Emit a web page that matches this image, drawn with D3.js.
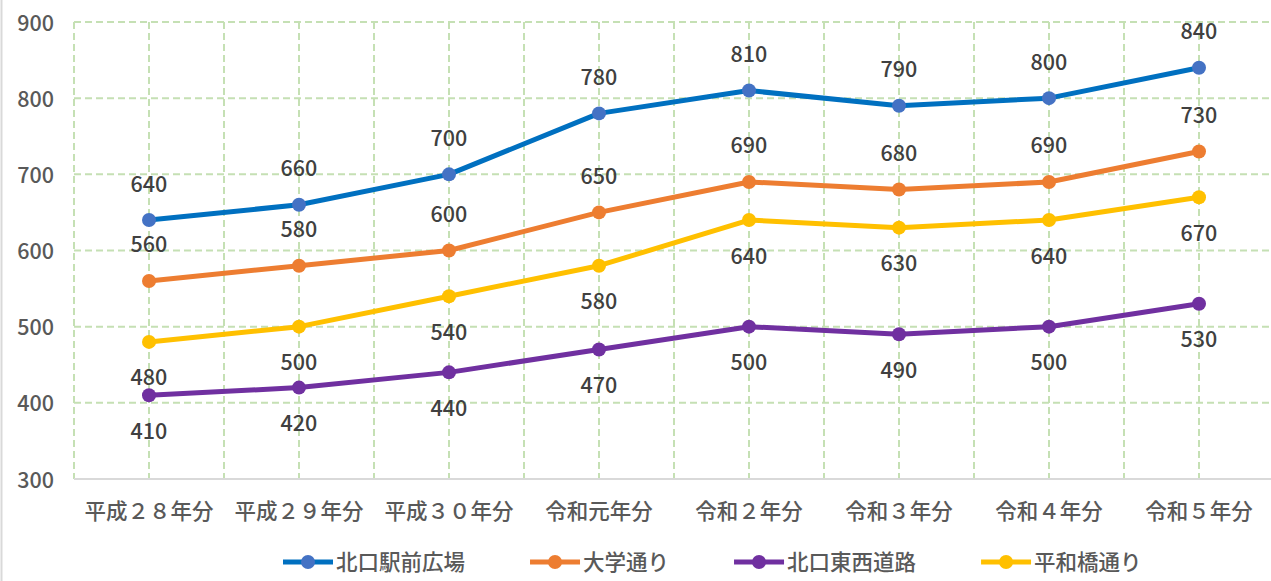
<!DOCTYPE html>
<html>
<head>
<meta charset="utf-8">
<script src="https://cdn.jsdelivr.net/npm/d3@7"></script>
<style>
  body { margin: 0; background: #fff; }
  svg { display: block; font-family: "Noto Sans CJK JP", "Noto Sans", sans-serif; font-weight: 500; }
</style>
</head>
<body>
<div id="content"></div>
<script>
// Screen dimensions
var w = 1271;
var h = 581;

// Data
var categories = ["平成２８年分", "平成２９年分", "平成３０年分", "令和元年分", "令和２年分", "令和３年分", "令和４年分", "令和５年分"];
var yTicks = [300, 400, 500, 600, 700, 800, 900];
var seriesNames = ["北口駅前広場", "大学通り", "北口東西道路", "平和橋通り"];
var kitaguchiEki = [640, 660, 700, 780, 810, 790, 800, 840];
var daigaku = [560, 580, 600, 650, 690, 680, 690, 730];
var kitaguchiTozai = [410, 420, 440, 470, 500, 490, 500, 530];
var heiwabashi = [480, 500, 540, 580, 640, 630, 640, 670];

var series = [
  { name: seriesNames[0], values: kitaguchiEki, line: "#0070C0", marker: "#4472C4", above: true },
  { name: seriesNames[1], values: daigaku, line: "#ED7D31", marker: "#ED7D31", above: true },
  { name: seriesNames[2], values: kitaguchiTozai, line: "#7030A0", marker: "#7030A0", above: false },
  { name: seriesNames[3], values: heiwabashi, line: "#FFC000", marker: "#FFC000", above: false }
];

var svg = d3.select("#content")
  .append("svg")
  .attr("width", w)
  .attr("height", h);

// chart border (only the left edge shows)
svg.append("line")
  .attr("x1", 1.5).attr("x2", 1.5)
  .attr("y1", 0).attr("y2", h)
  .attr("stroke", "#d9d9d9")
  .attr("stroke-width", 2);

var x = d3.scaleBand().domain(categories).range([74, 1274]);
var y = d3.scaleLinear().domain([300, 900]).range([479, 22]);
var cx = function(i) { return x(categories[i]) + x.bandwidth() / 2; };

// Gridlines
var grid = svg.append("g")
  .attr("stroke", "#C5E0B4")
  .attr("stroke-width", 2)
  .attr("stroke-dasharray", "7,4");

grid.selectAll("line.h")
  .data(yTicks.slice(1))
  .enter().append("line")
  .attr("x1", 74).attr("x2", 1274)
  .attr("y1", function(d) { return y(d); })
  .attr("y2", function(d) { return y(d); });

var vx = [];
categories.forEach(function(c) { vx.push(x(c)); vx.push(x(c) + x.bandwidth() / 2); });
vx.push(x.range()[1]);
grid.selectAll("line.v")
  .data(vx)
  .enter().append("line")
  .attr("x1", function(d) { return d; })
  .attr("x2", function(d) { return d; })
  .attr("y1", y(900)).attr("y2", y(300));

// x axis line
svg.append("line")
  .attr("x1", 74).attr("x2", 1274)
  .attr("y1", y(300)).attr("y2", y(300))
  .attr("stroke", "#d9d9d9")
  .attr("stroke-width", 2);

// Y tick labels
svg.selectAll("text.ytick")
  .data(yTicks)
  .enter().append("text")
  .attr("x", 54)
  .attr("y", function(d) { return y(d) + 1; })
  .attr("dy", "0.35em")
  .attr("text-anchor", "end")
  .attr("fill", "#595959")
  .attr("font-size", 21.5)
  .text(function(d) { return d; });

// X tick labels
svg.selectAll("text.xtick")
  .data(categories)
  .enter().append("text")
  .attr("x", function(d, i) { return cx(i); })
  .attr("y", 511)
  .attr("dy", "0.35em")
  .attr("text-anchor", "middle")
  .attr("fill", "#595959")
  .attr("font-size", 21.5)
  .text(function(d) { return d; });

// Lines
var line = d3.line()
  .x(function(d, i) { return cx(i); })
  .y(function(d) { return y(d); });

series.forEach(function(s) {
  var g = svg.append("g");
  g.append("path")
    .datum(s.values)
    .attr("d", line)
    .attr("fill", "none")
    .attr("stroke", s.line)
    .attr("stroke-width", 5)
    .attr("stroke-linejoin", "round");
  g.selectAll("circle")
    .data(s.values)
    .enter().append("circle")
    .attr("cx", function(d, i) { return cx(i); })
    .attr("cy", function(d) { return y(d); })
    .attr("r", 7)
    .attr("fill", s.marker);
});

// Data labels
series.forEach(function(s) {
  svg.append("g").selectAll("text")
    .data(s.values)
    .enter().append("text")
    .attr("x", function(d, i) { return cx(i); })
    .attr("y", function(d) { return y(d) + (s.above ? -36 : 36); })
    .attr("dy", "0.35em")
    .attr("text-anchor", "middle")
    .attr("fill", "#404040")
    .attr("font-size", 21.5)
    .text(function(d) { return d; });
});

// Legend
var legend = svg.append("g");
var lx = 283;
series.forEach(function(s) {
  var item = legend.append("g");
  item.append("line")
    .attr("x1", lx).attr("x2", lx + 50)
    .attr("y1", 562).attr("y2", 562)
    .attr("stroke", s.line)
    .attr("stroke-width", 5);
  item.append("circle")
    .attr("cx", lx + 25).attr("cy", 562)
    .attr("r", 7)
    .attr("fill", s.marker);
  var t = item.append("text")
    .attr("x", lx + 53)
    .attr("y", 562)
    .attr("dy", "0.35em")
    .attr("fill", "#595959")
    .attr("font-size", 21.5)
    .text(s.name);
  lx += 53 + t.node().getComputedTextLength() + 65;
});
</script>
</body>
</html>
